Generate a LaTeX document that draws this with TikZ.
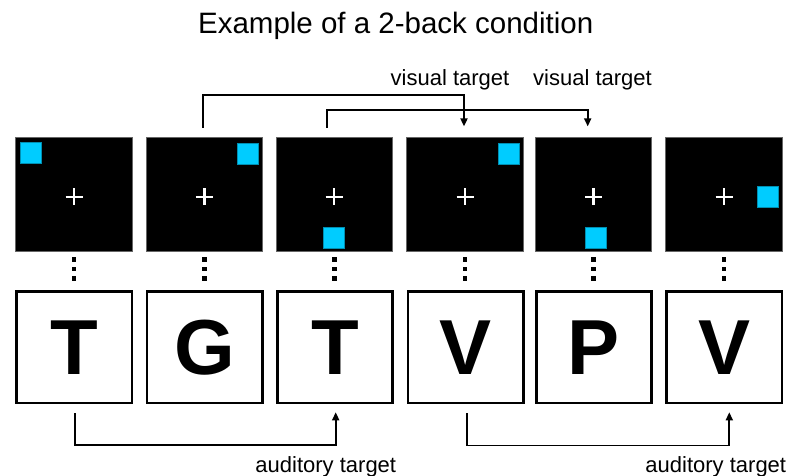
\documentclass[tikz,border=0pt]{standalone}
\usepackage{fontspec}
\setmainfont{Liberation Sans}
\usetikzlibrary{arrows.meta,calc}
\definecolor{cyanbox}{HTML}{00CCFF}
\begin{document}
\begin{tikzpicture}[x=1pt,y=-1pt,
  screen/.style={fill=black, draw=black!60, line width=0.6pt, minimum width=116.5pt, minimum height=114pt, inner sep=0pt},
  letterbox/.style={draw=black, line width=2.6pt, fill=white, minimum width=115.4pt, minimum height=111.6pt, inner sep=0pt, font=\fontsize{78}{78}\selectfont\bfseries},
  dotsq/.style={fill=black, minimum size=4.7pt, inner sep=0pt},
  target/.style={fill=cyanbox, draw=cyanbox!70!black, line width=0.4pt, minimum size=21pt, inner sep=0pt},
  conn/.style={line width=1.7pt, -{Triangle[width=7pt,length=8pt]}},
  lbl/.style={font=\fontsize{22}{22}\selectfont, anchor=base, inner sep=0pt},
  crossline/.style={white, line width=2.2pt}
]
\useasboundingbox (0,0) rectangle (792,476);
\fill[white] (0,0) rectangle (792,476);

% title
\node[lbl, font=\fontsize{29.5}{29.5}\selectfont] (title) at (395.7,33.3) {Example of a 2-back condition};

% screens, crosses, dots
\foreach \i/\x in {1/74,2/204.4,3/334.2,4/465,5/593.5,6/724}{
  \node[screen] (v\i) at (\x,194.3) {};
  \draw[crossline] ($(v\i.center)+(-8.5,2.4)$) -- ($(v\i.center)+(8.5,2.4)$);
  \draw[crossline] ($(v\i.center)+(0,-6.1)$) -- ($(v\i.center)+(0,10.9)$);
  \node[dotsq] (d\i a) at (\x,259.3) {};
  \node[dotsq] (d\i b) at (\x,269.1) {};
  \node[dotsq] (d\i c) at (\x,278.7) {};
}

% cyan targets
\node[target] (t1) at ($(v1.center)+(-43.5,-41.8)$) {};
\node[target] (t2) at ($(v2.center)+(42.8,-40.8)$) {};
\node[target] (t3) at ($(v3.center)+(-0.8,43.5)$) {};
\node[target] (t4) at ($(v4.center)+(43.8,-40.6)$) {};
\node[target] (t5) at ($(v5.center)+(2,43.5)$) {};
\node[target] (t6) at ($(v6.center)+(43.5,2.4)$) {};

% letter boxes
\node[letterbox] (a1) at (74.2,347.2) {T};
\node[letterbox] (a2) at (204.5,347.2) {G};
\node[letterbox] (a3) at (335,347.2) {T};
\node[letterbox] (a4) at (465.5,347.2) {V};
\node[letterbox] (a5) at (594,347.2) {P};
\node[letterbox] (a6) at (724.3,347.2) {V};

% visual connectors
\coordinate (va1) at ($(v2.north)+(-1.4,-9)$);
\coordinate (va2) at ($(v4.north)+(-1,-10.6)$);
\draw[conn] (va1) -- ++(0,-33.3) -| (va2);
\coordinate (vb1) at ($(v3.north)+(-7.5,-9)$);
\coordinate (vb2) at ($(v5.north)+(-5.8,-10.6)$);
\draw[conn] (vb1) -- ++(0,-18) -| (vb2);

% auditory connectors
\coordinate (aa1) at ($(a1.south)+(0.8,9)$);
\coordinate (aa2) at ($(a3.south)+(0.7,8)$);
\draw[conn] (aa1) -- (aa1 |- 0,445) -| (aa2);
\coordinate (ab1) at ($(a4.south)+(1.8,9)$);
\coordinate (ab2) at ($(a6.south)+(5,8)$);
\draw[conn] (ab1) -- (ab1 |- 0,445.5) -| (ab2);

% labels
\node[lbl] (vl1) at (450,86) {visual target};
\node[lbl] (vl2) at (592.5,86) {visual target};
\node[lbl] (al1) at (325.8,472.7) {auditory target};
\node[lbl] (al2) at (715.8,472.7) {auditory target};
\end{tikzpicture}
\end{document}
